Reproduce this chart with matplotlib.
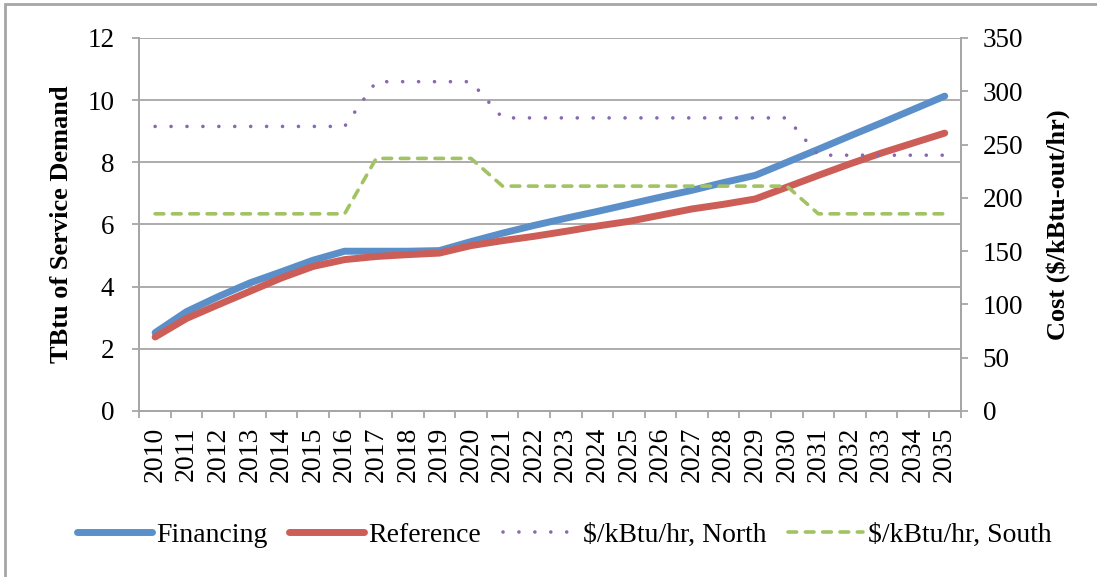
import numpy as np
import matplotlib
matplotlib.use('Agg')
import matplotlib.pyplot as plt
from matplotlib.patches import Rectangle

plt.rcParams['font.family'] = ['Liberation Serif', 'DejaVu Serif']

years = list(range(2010, 2036))

# TBtu of service demand (left axis)
financing = [2.52, 3.2, 3.68, 4.12, 4.48, 4.85, 5.14, 5.14, 5.14, 5.16, 5.45, 5.72,
             5.97, 6.2, 6.42, 6.65, 6.88, 7.1, 7.35, 7.58, 8.0, 8.42, 8.85, 9.27,
             9.7, 10.13]
reference = [2.38, 2.98, 3.42, 3.85, 4.28, 4.65, 4.87, 4.97, 5.03, 5.08, 5.32, 5.48,
             5.62, 5.78, 5.95, 6.1, 6.3, 6.5, 6.65, 6.82, 7.2, 7.58, 7.95, 8.3,
             8.62, 8.94]

# $/kBtu-out/hr (right axis)
north = [267] * 7 + [309] * 4 + [275] * 10 + [240] * 5
south = [185] * 7 + [237] * 4 + [211] * 10 + [185] * 5

x = np.arange(len(years))
grey = '#A6A6A6'

fig = plt.figure(figsize=(10.97, 5.77), dpi=100)
ax = fig.add_axes([0.127, 0.2877, 0.7486, 0.6465])
ax2 = ax.twinx()

l1, = ax.plot(x, financing, color='#5B8FC9', lw=5, solid_capstyle='round', solid_joinstyle='round')
l2, = ax.plot(x, reference, color='#CD5E57', lw=5, solid_capstyle='round', solid_joinstyle='round')
l3, = ax2.plot(x, north, color='#8868AE', lw=2.6, linestyle=(0, (0.01, 4.4)), dash_capstyle='round')
l4, = ax2.plot(x, south, color='#A2C363', lw=2.6, linestyle=(0, (2.4, 2.4)), dash_capstyle='round')

ax.set_xlim(-0.5, len(years) - 0.5)
ax.set_ylim(0, 12)
ax2.set_ylim(0, 350)
ax.set_yticks(np.arange(0, 13, 2))
ax2.set_yticks(np.arange(0, 351, 50))

ax.set_xticks(np.arange(-0.5, len(years)), labels=[])
ax.set_xticks(x, labels=[str(y) for y in years], minor=True, rotation=90)
ax.tick_params(axis='x', which='major', length=5, width=1.3, color=grey, direction='out')
ax.tick_params(axis='x', which='minor', length=0, pad=11, labelsize=20)
ax.tick_params(axis='y', length=5, width=1.3, color=grey, pad=13, labelsize=19.5)
ax2.tick_params(axis='y', length=5, width=1.3, color=grey, pad=11, labelsize=19.5)

ax.grid(axis='y', color=grey, lw=1.3)
ax.set_axisbelow(True)
for a in (ax, ax2):
    for s in a.spines.values():
        s.set_color(grey)
        s.set_linewidth(1.3)
    a.spines['top'].set_visible(False)

ax.set_ylabel('TBtu of Service Demand', fontsize=19, fontweight='bold', labelpad=10)
ax2.set_ylabel('Cost ($/kBtu-out/hr)', fontsize=19, fontweight='bold', labelpad=16)

fig.legend([l1, l2, l3, l4],
           ['Financing', 'Reference', '$/kBtu/hr, North', '$/kBtu/hr, South'],
           loc='center', bbox_to_anchor=(0.514, 0.073), ncol=4, frameon=False,
           fontsize=20, handlelength=2.7, handletextpad=0.15, columnspacing=0.8)

fig.patches.append(Rectangle((0.0046, -0.05), 1.05, 1.043, transform=fig.transFigure,
                             fill=False, edgecolor=grey, lw=2))

fig.savefig('out.png', dpi=100)
